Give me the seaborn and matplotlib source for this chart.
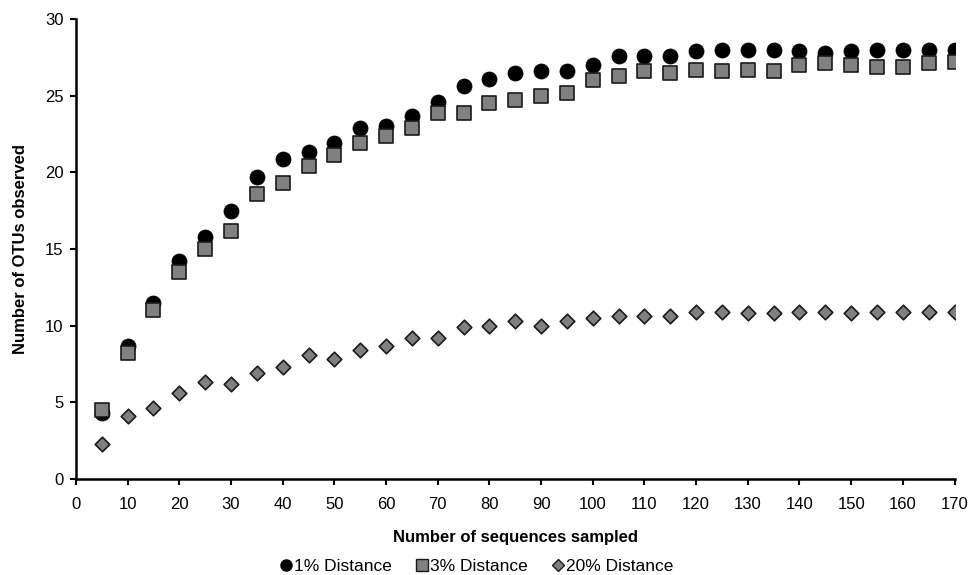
import numpy as np
import pandas as pd
import matplotlib
matplotlib.use("Agg")
import matplotlib.pyplot as plt
import seaborn as sns
from matplotlib.lines import Line2D

# sequences sampled (x)
seqs = list(range(5, 175, 5))

otu_1pct = [4.3, 8.7, 11.5, 14.2, 15.8, 17.5, 19.7, 20.9, 21.3, 21.9, 22.9, 23.0,
            23.7, 24.6, 25.6, 26.1, 26.5, 26.6, 26.6, 27.0, 27.6, 27.6, 27.6, 27.9,
            28.0, 28.0, 28.0, 27.9, 27.8, 27.9, 28.0, 28.0, 28.0, 28.0]
otu_3pct = [4.5, 8.2, 11.0, 13.5, 15.0, 16.2, 18.6, 19.3, 20.4, 21.1, 21.9, 22.4,
            22.9, 23.9, 23.9, 24.5, 24.7, 25.0, 25.2, 26.0, 26.3, 26.6, 26.5, 26.7,
            26.6, 26.7, 26.6, 27.0, 27.1, 27.0, 26.9, 26.9, 27.1, 27.2]
otu_20pct = [2.3, 4.1, 4.6, 5.6, 6.3, 6.2, 6.9, 7.3, 8.1, 7.8, 8.4, 8.7,
             9.2, 9.2, 9.9, 10.0, 10.3, 10.0, 10.3, 10.5, 10.6, 10.6, 10.6, 10.9,
             10.9, 10.8, 10.8, 10.9, 10.9, 10.8, 10.9, 10.9, 10.9, 10.9]

series_labels = ["1% Distance", "3% Distance", "20% Distance"]

sns.set_theme(style="white")
plt.rcParams['font.family'] = ['Liberation Sans', 'DejaVu Sans']
plt.rcParams['text.color'] = 'black'
plt.rcParams['axes.labelcolor'] = 'black'

fig = plt.figure(figsize=(9.74, 5.75), dpi=100)
ax = fig.add_axes([0.078, 0.167, 0.902, 0.800])

df1 = pd.DataFrame({'x': seqs, 'y': otu_1pct})
df3 = pd.DataFrame({'x': seqs, 'y': otu_3pct})
df20 = pd.DataFrame({'x': seqs, 'y': otu_20pct})

sns.scatterplot(data=df1, x='x', y='y', ax=ax, marker='o', s=118,
                color='black', edgecolor='black', linewidth=0.5, zorder=3)
sns.scatterplot(data=df3, x='x', y='y', ax=ax, marker='s', s=105,
                color='#808080', edgecolor='#1a1a1a', linewidth=1.2, zorder=4)
sns.scatterplot(data=df20, x='x', y='y', ax=ax, marker='D', s=55,
                color='#808080', edgecolor='#1a1a1a', linewidth=1.2, zorder=4)

ax.set_xlim(0, 170)
ax.set_ylim(0, 30)
ax.set_xticks(np.arange(0, 171, 10))
ax.set_yticks(np.arange(0, 31, 5))
ax.tick_params(axis='both', direction='out', length=4, width=1.5,
               colors='black', labelsize=12, pad=5, bottom=True, left=True)
ax.tick_params(axis='x', pad=9)
for side in ['top', 'right']:
    ax.spines[side].set_visible(False)
for side in ['left', 'bottom']:
    ax.spines[side].set_color('black')
    ax.spines[side].set_linewidth(1.8)

ax.set_xlabel('Number of sequences sampled', fontsize=12, fontweight='bold',
              labelpad=13, color='black')
ax.set_ylabel('Number of OTUs observed', fontsize=12, fontweight='bold',
              labelpad=12, color='black')

handles = [
    Line2D([], [], linestyle='none', marker='o', markersize=8, color='black'),
    Line2D([], [], linestyle='none', marker='s', markersize=8,
           markerfacecolor='#808080', markeredgecolor='#1a1a1a'),
    Line2D([], [], linestyle='none', marker='D', markersize=6,
           markerfacecolor='#808080', markeredgecolor='#1a1a1a'),
]
fig.legend(handles, series_labels, loc='lower center', bbox_to_anchor=(0.488, -0.025),
           ncol=3, frameon=False, fontsize=12.5, handletextpad=0.0,
           columnspacing=1.2, handlelength=1.0, labelcolor='black')

fig.savefig('out.png', dpi=100, facecolor='white')
